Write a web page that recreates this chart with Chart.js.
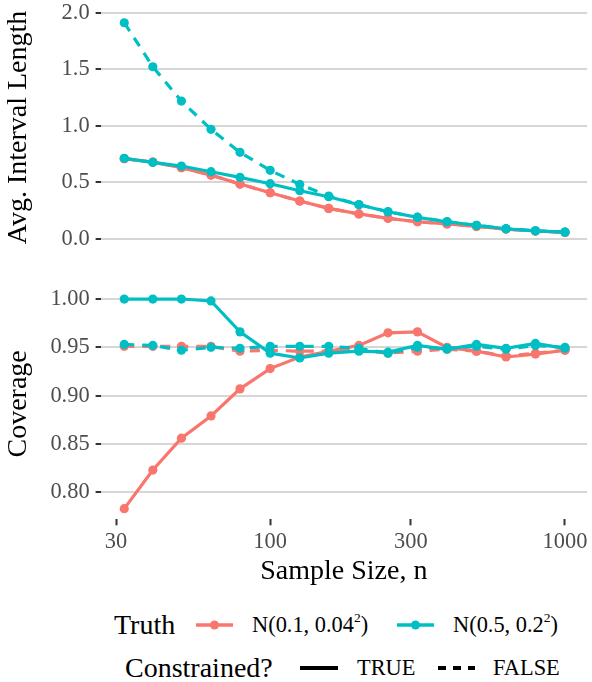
<!DOCTYPE html>
<html>
<head>
<meta charset="utf-8">
<script src="https://cdn.jsdelivr.net/npm/chart.js@4.4.1/dist/chart.umd.min.js"></script>
<style>
  body { margin: 0; background: #fff; font-family: "Liberation Serif", serif; }
  #wrap { position: relative; width: 592px; height: 682px; overflow: hidden; }
  canvas { position: absolute; left: 0; }
  .lg { position: absolute; line-height: 1; white-space: nowrap; transform: translateY(-50%); color: #000; }
  .lg sup { font-size: 60%; vertical-align: 0.7em; line-height: 0; }
  .key { position: absolute; }
</style>
</head>
<body>
<div id="wrap">
  <canvas id="lenChart" width="592" height="260" style="top:0"></canvas>
  <canvas id="covChart" width="592" height="330" style="top:260px"></canvas>

  <div class="lg" style="left:114px;top:625px;font-size:28px">Truth</div>
  <svg class="key" style="left:196px;top:615px" width="37" height="20">
    <line x1="0" y1="10" x2="37" y2="10" stroke="#F8766D" stroke-width="3.5"/>
    <circle cx="18.5" cy="10" r="4.5" fill="#F8766D"/>
  </svg>
  <div class="lg" style="left:252px;top:625px;font-size:22.4px">N(0.1, 0.04<sup>2</sup>)</div>
  <svg class="key" style="left:397px;top:615px" width="37" height="20">
    <line x1="0" y1="10" x2="37" y2="10" stroke="#00BFC4" stroke-width="3.5"/>
    <circle cx="18.5" cy="10" r="4.5" fill="#00BFC4"/>
  </svg>
  <div class="lg" style="left:453px;top:625px;font-size:22.4px">N(0.5, 0.2<sup>2</sup>)</div>

  <div class="lg" style="left:125px;top:668px;font-size:28px">Constrained?</div>
  <svg class="key" style="left:300px;top:658px" width="38" height="20">
    <line x1="0" y1="10" x2="38" y2="10" stroke="#000" stroke-width="4"/>
  </svg>
  <div class="lg" style="left:357px;top:668px;font-size:22.4px">TRUE</div>
  <svg class="key" style="left:438px;top:658px" width="37" height="20">
    <line x1="0" y1="10" x2="37" y2="10" stroke="#000" stroke-width="4" stroke-dasharray="8 7"/>
  </svg>
  <div class="lg" style="left:493px;top:668px;font-size:22.4px">FALSE</div>
</div>

<script>
// sample sizes (log spaced, 10^1.5 .. 10^3)
const sampleSizes = [32, 40, 50, 63, 79, 100, 126, 158, 200, 251, 316, 398, 501, 631, 794, 1000];

// average interval length
const lenN01True  = [0.710, 0.680, 0.630, 0.565, 0.486, 0.409, 0.336, 0.271, 0.222, 0.183, 0.153, 0.133, 0.112, 0.088, 0.071, 0.059];
const lenN01False = [0.710, 0.680, 0.630, 0.565, 0.486, 0.409, 0.336, 0.271, 0.222, 0.183, 0.153, 0.133, 0.112, 0.088, 0.071, 0.059];
const lenN05True  = [0.713, 0.677, 0.645, 0.595, 0.545, 0.489, 0.427, 0.374, 0.303, 0.241, 0.192, 0.153, 0.121, 0.091, 0.073, 0.062];
const lenN05False = [1.911, 1.522, 1.219, 0.969, 0.766, 0.607, 0.483, 0.380, 0.305, 0.242, 0.193, 0.154, 0.121, 0.092, 0.073, 0.062];

// coverage
const covN01True  = [0.783, 0.823, 0.856, 0.879, 0.907, 0.928, 0.940, 0.946, 0.952, 0.965, 0.966, 0.950, 0.946, 0.940, 0.943, 0.947];
const covN01False = [0.951, 0.951, 0.951, 0.951, 0.946, 0.947, 0.946, 0.946, 0.947, 0.944, 0.946, 0.948, 0.946, 0.941, 0.944, 0.947];
const covN05True  = [1.000, 1.000, 1.000, 0.998, 0.966, 0.944, 0.939, 0.944, 0.946, 0.945, 0.952, 0.948, 0.953, 0.949, 0.954, 0.949];
const covN05False = [0.953, 0.952, 0.947, 0.950, 0.949, 0.951, 0.951, 0.951, 0.949, 0.944, 0.950, 0.949, 0.951, 0.948, 0.952, 0.950];

const xTicks = [30, 100, 300, 1000];
const lenTicks = [0, 0.5, 1, 1.5, 2];
const covTicks = [0.80, 0.85, 0.90, 0.95, 1.00];

const RED = '#F8766D';
const TEAL = '#00BFC4';
const SERIF = '"Liberation Serif", "Times New Roman", serif';

function series(vals, color, dashed) {
  return {
    data: sampleSizes.map((n, i) => ({ x: n, y: vals[i] })),
    borderColor: color,
    backgroundColor: color,
    borderWidth: 3.2,
    borderDash: dashed ? [10, 8] : [],
    pointRadius: 4.6,
    pointHoverRadius: 4.6,
    pointBorderWidth: 0,
    tension: 0
  };
}

function yAxis(min, max, tickVals, digits, title) {
  return {
    min: min,
    max: max,
    afterFit: s => { s.width = 100.6; s.paddingTop = 0; s.paddingBottom = 0; },
    afterBuildTicks: s => { s.ticks = tickVals.map(v => ({ value: v })); },
    border: { display: false },
    grid: { color: '#D6D6D6', lineWidth: 2, tickLength: 5, tickColor: '#333333', tickWidth: 2 },
    ticks: {
      padding: 6,
      color: '#4D4D4D',
      font: { family: SERIF, size: 22.4 },
      callback: v => Number(v).toFixed(digits)
    },
    title: { display: true, text: title, color: '#000', font: { family: SERIF, size: 28 }, padding: { top: 2, bottom: 0 } }
  };
}

const xRange = { type: 'logarithmic', min: 26.6, max: 1188.5 };

// top panel: interval length
new Chart(document.getElementById('lenChart'), {
  type: 'line',
  data: {
    datasets: [
      series(lenN05False, TEAL, true),
      series(lenN05True, TEAL, false),
      series(lenN01False, RED, true),
      series(lenN01True, RED, false)
    ]
  },
  options: {
    responsive: false,
    animation: false,
    layout: { padding: { top: 12.2, right: 4.9, bottom: 17.2, left: 0 } },
    plugins: { legend: { display: false }, tooltip: { enabled: false } },
    scales: {
      x: Object.assign({}, xRange, { display: false }),
      y: yAxis(-0.033, 2.004, lenTicks, 1, 'Avg. Interval Length')
    }
  }
});

// bottom panel: coverage
new Chart(document.getElementById('covChart'), {
  type: 'line',
  data: {
    datasets: [
      series(covN05False, TEAL, true),
      series(covN05True, TEAL, false),
      series(covN01False, RED, true),
      series(covN01True, RED, false)
    ]
  },
  options: {
    responsive: false,
    animation: false,
    layout: { padding: { top: 28.4, right: 4.9, bottom: 0, left: 0 } },
    plugins: { legend: { display: false }, tooltip: { enabled: false } },
    scales: {
      x: Object.assign({}, xRange, {
        afterFit: s => { s.height = 70.7; s.paddingLeft = 0; s.paddingRight = 0; },
        afterBuildTicks: s => { s.ticks = xTicks.map(v => ({ value: v })); },
        border: { display: false },
        grid: { drawOnChartArea: false, tickLength: 6, tickColor: '#333333', tickWidth: 2 },
        ticks: {
          padding: 3,
          color: '#4D4D4D',
          maxRotation: 0,
          autoSkip: false,
          font: { family: SERIF, size: 22.4 },
          callback: v => String(v)
        },
        title: { display: true, text: 'Sample Size, n', color: '#000', font: { family: SERIF, size: 28 }, padding: { top: 0, bottom: 2 } }
      }),
      y: yAxis(0.772, 1.011, covTicks, 2, 'Coverage')
    }
  }
});
</script>
</body>
</html>
